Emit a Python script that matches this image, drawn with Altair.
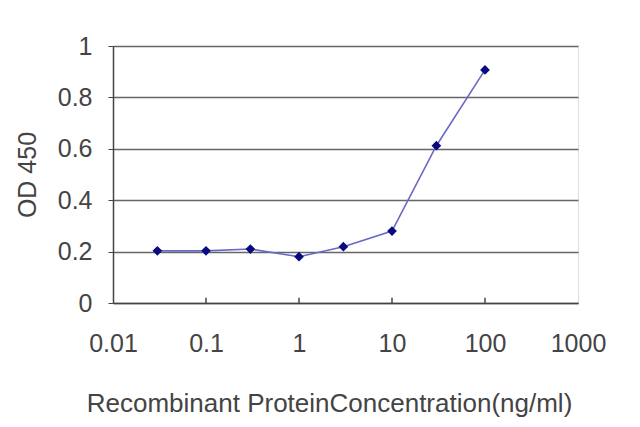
import pandas as pd
import altair as alt

# concentration (ng/ml) and OD 450 readings
conc = [0.03, 0.1, 0.3, 1, 3, 10, 30, 100]
od450 = [0.203, 0.203, 0.21, 0.18, 0.219, 0.28, 0.612, 0.907]
decades = [0.1, 1, 10, 100]

df = pd.DataFrame({"conc": conc, "od": od450})
ticks_df = pd.DataFrame({"x": decades, "y0": [0] * len(decades), "y1": [0.02] * len(decades)})

FONT = "Liberation Sans"
TXT = "#444444"

x_scale = alt.Scale(type="log", domain=[0.01, 1000], nice=False)
y_scale = alt.Scale(domain=[0, 1], nice=False)

line = (
    alt.Chart(df)
    .mark_line(color="#6a6ac4", strokeWidth=1.6)
    .encode(
        alt.X("conc:Q", scale=x_scale).axis(
            values=[0.01, 0.1, 1, 10, 100, 1000],
            format="~g",
            grid=False,
            ticks=False,
            labelPadding=28,
            labelFontSize=25,
            labelColor=TXT,
            labelFont=FONT,
            labelFlush=False,
            domainColor="#444444",
            domainWidth=1.5,
            title="Recombinant ProteinConcentration(ng/ml)",
            titleFontSize=26,
            titleFontWeight="normal",
            titleColor=TXT,
            titleFont=FONT,
            titlePadding=34,
            titleX=216,
            titleAlign="center",
        ),
        alt.Y("od:Q", scale=y_scale).axis(
            values=[0, 0.2, 0.4, 0.6, 0.8, 1],
            format="~g",
            grid=True,
            gridColor="#666666",
            gridWidth=1.5,
            tickColor="#444444",
            tickSize=5,
            labelPadding=16,
            labelFontSize=25,
            labelColor=TXT,
            labelFont=FONT,
            domainColor="#444444",
            domainWidth=1.5,
            title="OD 450",
            titleFontSize=25,
            titleFontWeight="normal",
            titleColor=TXT,
            titleFont=FONT,
            titlePadding=17,
        ),
    )
)

points = (
    alt.Chart(df)
    .mark_point(shape="diamond", filled=True, color="#0a0a80", size=95, opacity=1)
    .encode(x=alt.X("conc:Q", scale=x_scale), y=alt.Y("od:Q", scale=y_scale))
)

# small tick marks pointing up into the plot at each decade
xticks = (
    alt.Chart(ticks_df)
    .mark_rule(color="#444444", strokeWidth=1.5)
    .encode(
        x=alt.X("x:Q", scale=x_scale),
        y=alt.Y("y0:Q", scale=y_scale),
        y2="y1:Q",
    )
)

chart = (
    alt.layer(line, xticks, points)
    .properties(
        width=465,
        height=257,
        autosize=alt.AutoSizeParams(type="none"),
        padding={"left": 105, "top": 38, "right": 50, "bottom": 121},
    )
    .configure_view(stroke="#a0a0a0", strokeWidth=1.2)
    .configure(background="white")
)

chart.save("out.html", embed_options={"renderer": "svg", "actions": False})
